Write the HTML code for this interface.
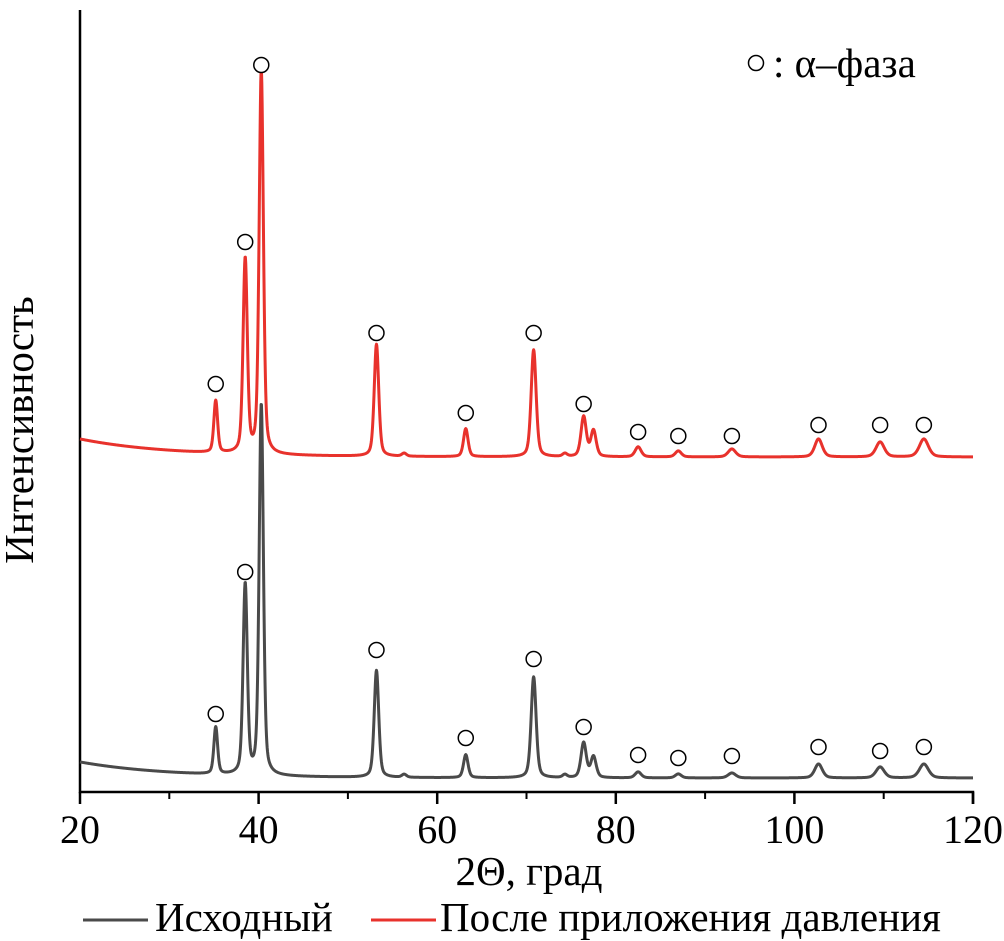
<!DOCTYPE html>
<html><head><meta charset="utf-8"><style>
html,body{margin:0;padding:0;background:#fff;}
svg{display:block;font-family:"Liberation Serif",serif;}
</style></head><body>
<svg id="chart" width="1004" height="941" viewBox="0 0 1004 941">
<g id="axes"></g>
<g id="series"></g>
<g id="markers"></g>
<text x="33" y="430" font-size="41" text-anchor="middle" transform="rotate(-90 33 430)">Интенсивность</text>
<text x="529" y="885" font-size="41" text-anchor="middle">2Θ, град</text>
<g>
<circle cx="756" cy="63" r="7.5" fill="#fff" stroke="#000" stroke-width="1.5"/>
<text x="773" y="77" font-size="41">: α–фаза</text>
</g>
<g>
<g>
<line x1="83" y1="920" x2="148" y2="920" stroke="#4a4a4a" stroke-width="3"/>
<text x="155" y="931" font-size="41">Исходный</text></g>
<g>
<line x1="371" y1="920" x2="436" y2="920" stroke="#e8322c" stroke-width="3"/>
<text x="440" y="931" font-size="41">После приложения давления</text></g>
</g>
</svg>
<script>
// data
const peakPos = [35.2, 38.5, 40.3, 53.2, 56.3, 63.2, 70.8, 74.3, 76.4, 77.5, 82.5, 87.0, 93.0, 102.7, 109.6, 114.5];
const peakWidth = [0.25, 0.28, 0.28, 0.3, 0.3, 0.3, 0.33, 0.3, 0.35, 0.35, 0.4, 0.4, 0.5, 0.5, 0.55, 0.6];
const grayHeights = [47, 190, 371, 107, 3, 23, 101, 3, 35, 21, 6, 4, 5, 14, 11, 14];
const redHeights = [52, 194, 384, 112, 3, 28, 107, 3, 40, 26, 10, 6, 8, 18, 15, 18];
const grayOffset = 14, redOffset = 335;
const bgAmp = [16, 18];
const markerPos = [35.2, 38.5, 40.3, 53.2, 63.2, 70.8, 76.4, 82.5, 87.0, 93.0, 102.7, 109.6, 114.5];
const grayMarkerVal = [78, 220, null, 142, 54, 133, 65, 37, 34, 36, 45, 41, 45];
const redMarkerVal = [408, 550, 727, 459, 379, 459, 388, 360, 356, 356, 367, 367, 367];
const xTicks = [20, 40, 60, 80, 100, 120];
const xMinor = [30, 50, 70, 90, 110];

const X0=80, X1=973, Y0=792;
const xs = v => X0 + (v-20)/100*(X1-X0);
const ys = v => Y0 - v;
const NS='http://www.w3.org/2000/svg';
function mk(tag, attrs, parent){const e=document.createElementNS(NS,tag);for(const k in attrs)e.setAttribute(k,attrs[k]);parent.appendChild(e);return e;}

const axes=document.getElementById('axes');
let a=mk('path',{d:`M${X0} 10 V${Y0} H${X1} V${Y0+12}`,fill:'none',stroke:'#000','stroke-width':2.5},axes);


xTicks.forEach(t=>{
 const l=mk('line',{x1:xs(t),x2:xs(t),y1:Y0,y2:Y0+12,stroke:'#000','stroke-width':2.5},axes);
 
 
 const tx=mk('text',{x:xs(t),y:843,'font-size':40,'text-anchor':'middle'},axes);
 tx.textContent=t;
 
 
});
xMinor.forEach(t=>{
 const l=mk('line',{x1:xs(t),x2:xs(t),y1:Y0,y2:Y0+7,stroke:'#000','stroke-width':2},axes);
 
 
});

function profile(x, heights, offset, bg){
 let y = offset + bg*Math.exp(-(x-20)/10);
 for(let i=0;i<peakPos.length;i++){
  const d=(x-peakPos[i])/peakWidth[i];
  y += heights[i]*(0.6*Math.exp(-0.693*d*d)+0.4/(1+d*d));
 }
 return y;
}
const series=document.getElementById('series');
function drawSeries(heights, offset, bg, color, name){
 let d='';
 for(let x=20;x<=120.001;x+=0.04){
  d+=(d?'L':'M')+xs(x).toFixed(2)+' '+ys(profile(x,heights,offset,bg)).toFixed(2);
 }
 const p=mk('path',{d:d,fill:'none',stroke:color,'stroke-width':3,'stroke-linejoin':'round'},series);
 
 
}
drawSeries(redHeights, redOffset, bgAmp[1], '#e8322c', 'series-after-pressure');
drawSeries(grayHeights, grayOffset, bgAmp[0], '#4a4a4a', 'series-initial');

const markers=document.getElementById('markers');
function drawMarkers(vals,name){
 markerPos.forEach((p,i)=>{
  if(vals[i]==null)return;
  const c=mk('circle',{cx:xs(p),cy:ys(vals[i]),r:7.5,fill:'#fff',stroke:'#000','stroke-width':1.5},markers);
  
  
 });
}
drawMarkers(grayMarkerVal,'alpha-marker-initial');
drawMarkers(redMarkerVal,'alpha-marker-after-pressure');
</script>
</body></html>
